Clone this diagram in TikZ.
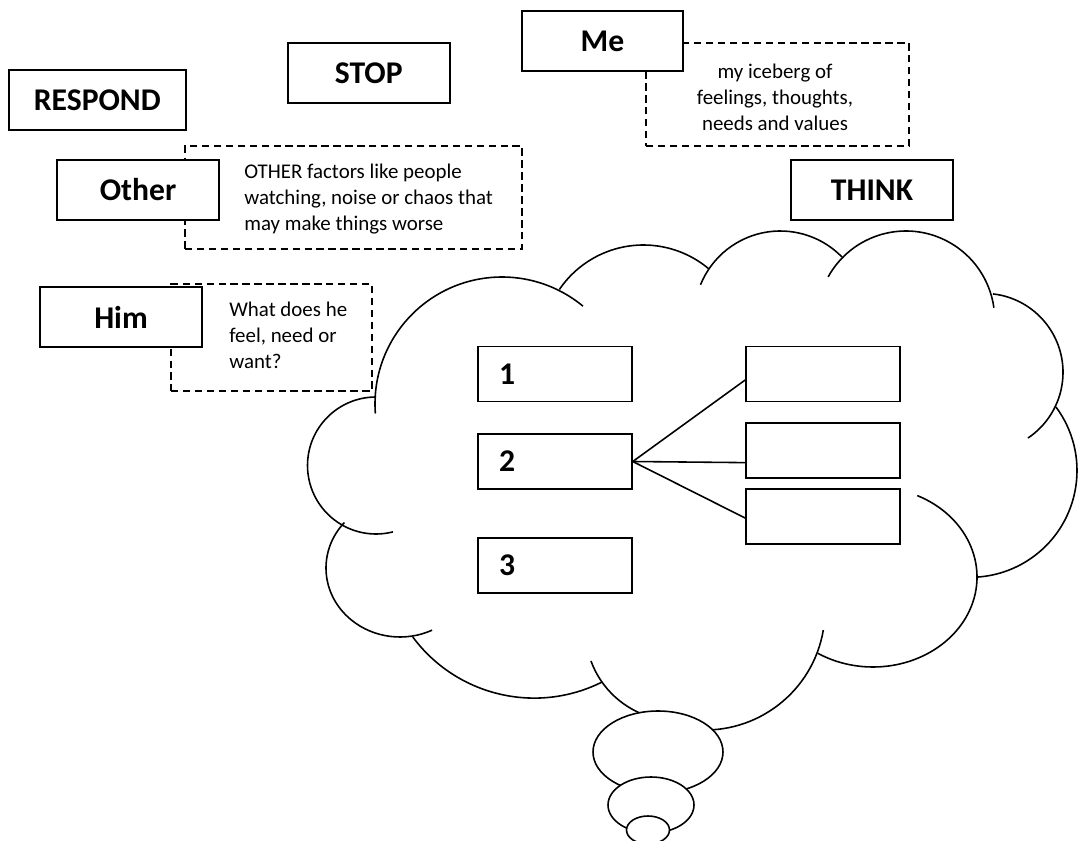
\documentclass[tikz,border=0pt]{standalone}
\usepackage{fontspec}
\setmainfont{Carlito}

\begin{document}
\begin{tikzpicture}[
  x=0.02cm, y=-0.02cm,
  every node/.style={font=\fontsize{18}{22}\selectfont\bfseries},
  labelbox/.style={draw, fill=white, line width=0.9pt, minimum width=3.24cm, minimum height=1.2cm, inner sep=0pt},
  notebox/.style={draw, line width=0.9pt, dash pattern=on 4.2pt off 2.6pt, inner sep=0pt},
  note/.style={font=\fontsize{11.9}{14.8}\selectfont, inner sep=0pt},
  numbox/.style={draw, fill=white, line width=0.9pt, text width=2.24cm, inner xsep=0.42cm, inner ysep=0pt, minimum height=1.1cm, align=left},
  cloudline/.style={line width=0.9pt},
  bubble/.style={draw, fill=white, line width=0.9pt}
]
\useasboundingbox (0,0) rectangle (1078,841);

% dashed notes
\node[notebox, minimum width=6.74cm, minimum height=2.06cm] (otherframe) at (353.5,197.5) {};
\node[notebox, minimum width=4.02cm, minimum height=2.14cm] (himframe) at (271.5,337.5) {};
\node[notebox, minimum width=5.26cm, minimum height=2.06cm] (meframe) at (777.5,94.5) {};
\node[note, anchor=north west, align=left] (othernote) at (244,163.5)
  {OTHER factors like people\\watching, noise or chaos that\\may make things worse};
\node[note, anchor=north west, align=left] (himnote) at (229,301.5)
  {What does he\\feel, need or\\want?};
\node[note, anchor=north, align=center] (menote) at (775,63.5)
  {my iceberg of\\feelings, thoughts,\\needs and values};

% labels
\node[labelbox, minimum width=3.54cm] (respond) at (97.3,100) {RESPOND};
\node[labelbox] (stop) at (368.8,73) {STOP};
\node[labelbox, minimum width=3.22cm] (me) at (602.5,41) {Me};
\node[labelbox] (think) at (872,190) {THINK};
\node[labelbox] (other) at (138,190) {Other};
\node[labelbox] (him) at (121,317) {Him};

% cloud
\draw[cloudline] (376,465.5) ++(270:68.5) arc[start angle=270, end angle=75.7, radius=68.5];
\draw[cloudline] (502,404) ++(175.7:127) arc[start angle=175.7, end angle=309.6, radius=127];
\draw[cloudline] (643.4,346.6) ++(214.2:101.6) arc[start angle=214.2, end angle=310.2, radius=101.6];
\draw[cloudline] (780.3,317.1) ++(202:86.1) arc[start angle=202, end angle=315.8, radius=86.1];
\draw[cloudline] (905.9,319.8) ++(208.9:88.8) arc[start angle=208.9, end angle=352.2, radius=88.8];
\draw[cloudline] (984,372.4) ++(276.5:79) arc[start angle=276.5, end angle=416.2, radius=79];
\draw[cloudline] (970.3,470.6) ++(-36.6:106.7) arc[start angle=-36.6, end angle=86.4, radius=106.7];
\draw[cloudline] (873,577) ++(-64.8:104 and 90) arc[start angle=-64.8, end angle=122, x radius=104, y radius=90];
\draw[cloudline] (705,610) ++(9.6:120) arc[start angle=9.6, end angle=95, radius=120];
\draw[cloudline] (676.4,629.7) ++(159.9:91) arc[start angle=159.9, end angle=105, radius=91];
\draw[cloudline] (534.2,546.9) ++(63.3:151.2) arc[start angle=63.3, end angle=143.4, radius=151.2];
\draw[cloudline] (400,568) ++(221.3:74 and 69) arc[start angle=221.3, end angle=64.3, x radius=74, y radius=69];

% thought bubbles
\draw[bubble] (658,752) ellipse [x radius=65, y radius=41];
\draw[bubble] (651,805) ellipse [x radius=43, y radius=28];
\draw[bubble] (648,830) ellipse [x radius=21.5, y radius=14];

% steps
\node[numbox] (step1) at (555,374) {1};
\node[numbox] (step2) at (555,461.5) {2};
\node[numbox] (step3) at (555,565.5) {3};
\node[numbox] (opt1) at (823,374) {};
\node[numbox] (opt2) at (823,450.5) {};
\node[numbox] (opt3) at (823,516.5) {};

\draw[line width=0.9pt] (step2.east) -- ([yshift=-3.4pt]opt1.west);
\draw[line width=0.9pt] (step2.east) -- ([yshift=-6.9pt]opt2.west);
\draw[line width=0.9pt] (step2.east) -- ([yshift=-0.9pt]opt3.west);
\end{tikzpicture}
\end{document}
